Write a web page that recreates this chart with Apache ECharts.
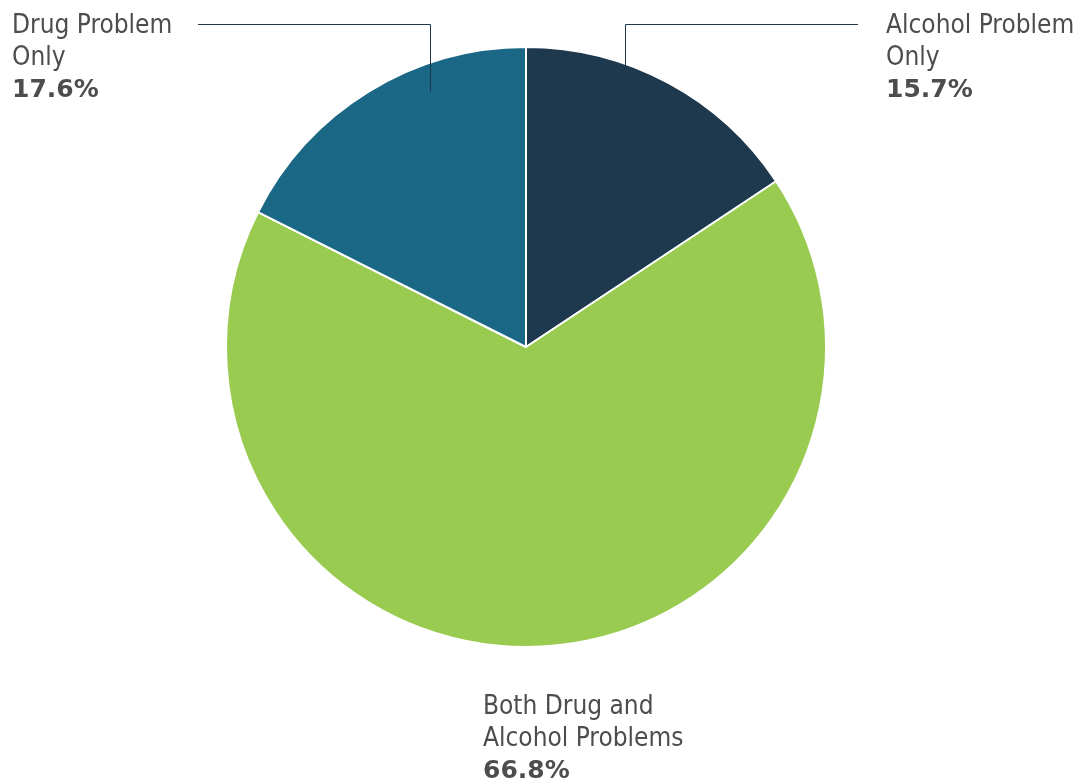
<!DOCTYPE html>
<html>
<head>
<meta charset="utf-8">
<script src="https://cdn.jsdelivr.net/npm/echarts@6/dist/echarts.min.js"></script>
<style>html,body{margin:0;padding:0;background:#fff}#c{width:1077px;height:780px}</style>
</head>
<body>
<div id="c"></div>
<script>
var categories = ['Alcohol Problem\nOnly', 'Both Drug and\nAlcohol Problems', 'Drug Problem\nOnly'];
var values = [15.7, 66.8, 17.6];
var colors = ['#1e384d', '#99cb50', '#1b6886'];

var labelPos = [
  {x: 886, y: 10, line: [[625.5, 92], [625.5, 24.5], [858, 24.5]]},
  {x: 483, y: 691, line: null},
  {x: 12, y: 10, line: [[430.5, 92], [430.5, 24.5], [198, 24.5]]}
];

var chart = echarts.init(document.getElementById('c'));
chart.setOption({
  animation: false,
  series: [{
    type: 'pie',
    z: 1,
    center: [526, 347],
    radius: 300,
    startAngle: 90,
    clockwise: true,
    silent: true,
    data: categories.map(function (c, i) {
      return {name: c, value: values[i], itemStyle: {color: colors[i]}};
    }),
    itemStyle: {borderColor: '#ffffff', borderWidth: 2},
    label: {show: false},
    labelLine: {show: false}
  }, {
    type: 'pie',
    z: 5,
    center: [526, 347],
    radius: 300,
    startAngle: 90,
    clockwise: true,
    silent: true,
    data: categories.map(function (c, i) {
      return {
        name: c, value: values[i],
        itemStyle: {color: 'rgba(0,0,0,0)'},
        labelLine: {show: !!labelPos[i].line}
      };
    }),
    itemStyle: {borderWidth: 0},
    label: {
      show: true,
      formatter: function (p) { return '{n|' + p.name + '}\n{v|' + p.value.toFixed(1) + '%}'; },
      align: 'left',
      rich: {
        n: {fontFamily: 'DejaVu Sans Condensed', fontSize: 26, lineHeight: 32, color: '#4d4d4d'},
        v: {fontFamily: 'DejaVu Sans', fontSize: 25, lineHeight: 32, fontWeight: 'bold', color: '#4d4d4d'}
      }
    },
    labelLine: {show: true, showAbove: true, lineStyle: {color: '#1e384d', width: 1}},
    labelLayout: function (params) {
      var lp = labelPos[params.dataIndex];
      var r = {x: lp.x, y: lp.y, align: 'left', verticalAlign: 'top'};
      if (lp.line) r.labelLinePoints = lp.line;
      return r;
    }
  }]
});
</script>
</body>
</html>
